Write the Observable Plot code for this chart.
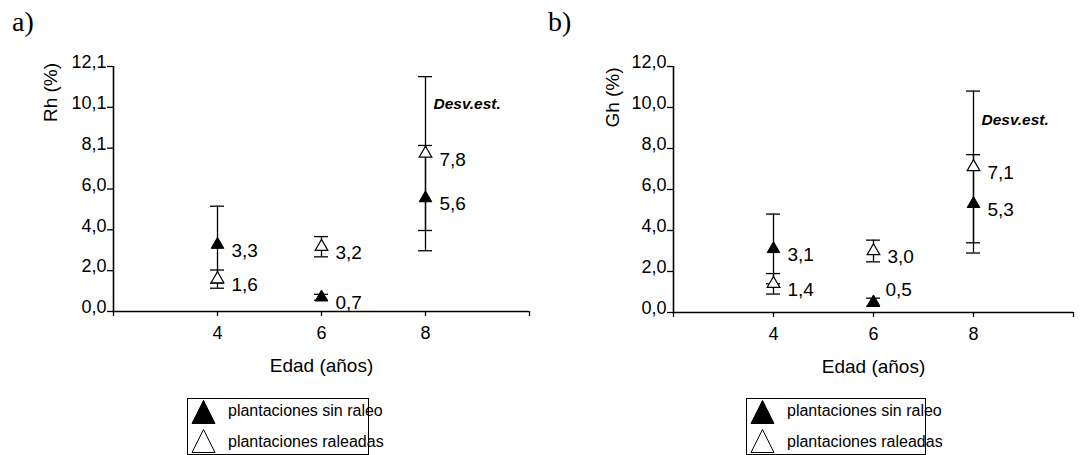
<!DOCTYPE html>
<html><head><meta charset="utf-8">
<script src="https://cdn.jsdelivr.net/npm/d3@7"></script>
<script src="https://cdn.jsdelivr.net/npm/@observablehq/plot@0.6"></script>
<style>
body{margin:0;background:#fff;}
#wrap{position:relative;width:1081px;height:455px;overflow:hidden;font-family:"Liberation Sans",Arial,sans-serif;color:#000;}
.pl{position:absolute;font-family:"Liberation Serif","Times New Roman",serif;font-size:28px;line-height:1;}
.panel{position:absolute;top:0;}
.legend{position:absolute;border:1.5px solid #000;box-sizing:border-box;background:#fff;}
.legend svg{position:absolute;}
.legend span{position:absolute;font-size:16px;line-height:1;white-space:nowrap;transform:translateY(-50%);}
</style></head>
<body><div id="wrap"></div>
<script>
// ---- data ----
const ages = [4, 6, 8];
const rhSinRaleo   = [3.3, 0.7, 5.6];
const rhSinRaleoSd = [1.9, 0.15, 2.6];
const rhRaleadas   = [1.6, 3.2, 7.8];
const rhRaleadasSd = [0.45, 0.5, 3.8];
const ghSinRaleo   = [3.1, 0.5, 5.3];
const ghSinRaleoSd = [1.7, 0.2, 2.4];
const ghRaleadas   = [1.4, 3.0, 7.1];
const ghRaleadasSd = [0.5, 0.53, 3.7];
const xTicks = [2, 4, 6, 8, 10];
const xTickLabels = ["", "4", "6", "8", ""];
const rhTicks = [0, 12.1/6, 2*12.1/6, 3*12.1/6, 4*12.1/6, 5*12.1/6, 12.1];
const rhTickLabels = ["0,0", "2,0", "4,0", "6,0", "8,1", "10,1", "12,1"];
const ghTicks = [0, 2, 4, 6, 8, 10, 12];
const ghTickLabels = ["0,0", "2,0", "4,0", "6,0", "8,0", "10,0", "12,0"];
const seriesNames = ["plantaciones sin raleo", "plantaciones raleadas"];
const panelLetters = ["a)", "b)"];
const xTitle = "Edad (años)";
const sdNote = "Desv.est.";

const fmt = v => d3.format(".1f")(v).replace(".", ",");
const wrap = document.getElementById("wrap");
const FONT = "Liberation Sans, Arial, sans-serif";

function panel(cfg) {
  const rows = [];
  ages.forEach((a, i) => {
    rows.push({x: a, y: cfg.sin[i], sd: cfg.sinSd[i], s: 0});
    rows.push({x: a, y: cfg.ral[i], sd: cfg.ralSd[i], s: 1});
  });
  const lookup = (ticks, labels) => d => labels[ticks.indexOf(d)] ?? "";
  // labels sit right of each marker; a label too close to the x axis goes above it
  const lowLabel = d => d.y < 0.6;
  const chart = Plot.plot({
    width: cfg.width, height: 390,
    marginLeft: cfg.marginLeft, marginRight: cfg.marginRight,
    marginTop: 66, marginBottom: cfg.marginBottom,
    style: {fontFamily: FONT, fontSize: "18px", background: "transparent", overflow: "visible"},
    x: {domain: [2, 10]},
    y: {domain: [0, cfg.yMax]},
    marks: [
      Plot.axisX(xTicks, {tickSize: 5, tickPadding: 10, fontSize: 18, tickFormat: lookup(xTicks, xTickLabels), label: null, stroke: "#000", strokeWidth: 1.3}),
      Plot.axisY(cfg.yTicks, {tickSize: 6, fill: "none", label: null, stroke: "#000", strokeWidth: 1.3, tickFormat: lookup(cfg.yTicks, cfg.yTickLabels)}),
      Plot.axisY(cfg.yTicks, {tickSize: 0, tickPadding: 7, dy: -4, fontSize: 18, label: null, tickFormat: lookup(cfg.yTicks, cfg.yTickLabels)}),
      Plot.ruleX([2], {stroke: "#000", strokeWidth: 1.6}),
      Plot.ruleY([0], {stroke: "#000", strokeWidth: 1.6}),
      Plot.ruleX(rows, {x: "x", y1: d => d.y - d.sd, y2: d => d.y + d.sd, stroke: "#000", strokeWidth: 1.3}),
      Plot.ruleY(rows, {x1: "x", x2: "x", y: d => d.y - d.sd, insetLeft: -7, insetRight: -7, stroke: "#000", strokeWidth: 1.3}),
      Plot.ruleY(rows, {x1: "x", x2: "x", y: d => d.y + d.sd, insetLeft: -7, insetRight: -7, stroke: "#000", strokeWidth: 1.3}),
      Plot.dot(rows.filter(d => d.s === 0), {x: "x", y: "y", symbol: "triangle", r: 4.7, fill: "#000", stroke: "#000", strokeWidth: 1}),
      Plot.dot(rows.filter(d => d.s === 1), {x: "x", y: "y", symbol: "triangle", r: 4.7, fill: "#fff", stroke: "#000", strokeWidth: 1.2}),
      Plot.text(rows.filter(d => !lowLabel(d)), {x: "x", y: "y", text: d => fmt(d.y), dx: 14, dy: 6, textAnchor: "start", fontSize: 19}),
      Plot.text(rows.filter(lowLabel), {x: "x", y: "y", text: d => fmt(d.y), dx: 12, dy: -12, textAnchor: "start", fontSize: 19}),
      Plot.text([sdNote], {x: () => 8, y: () => cfg.desvY, text: d => d, dx: 8, textAnchor: "start", fontWeight: "bold", fontStyle: "italic", fontSize: 15.5}),
      Plot.text([cfg.yTitle], {frameAnchor: "top-left", text: d => d, rotate: -90, textAnchor: "middle", lineAnchor: "middle", dx: cfg.titleDx, dy: cfg.titleDy, fontSize: 19}),
      Plot.text([xTitle], {frameAnchor: "bottom", text: d => d, textAnchor: "middle", lineAnchor: "middle", dy: 54, fontSize: 19})
    ]
  });
  chart.classList.add("panel");
  chart.style.left = cfg.left + "px";
  wrap.appendChild(chart);
}

panel({yTitle: "Rh (%)", yMax: 12.1, yTicks: rhTicks, yTickLabels: rhTickLabels,
  sin: rhSinRaleo, sinSd: rhSinRaleoSd, ral: rhRaleadas, ralSd: rhRaleadasSd,
  left: 0, width: 540, marginLeft: 113, marginRight: 11, marginBottom: 79, desvY: 10.27,
  titleDx: -63, titleDy: 26});
panel({yTitle: "Gh (%)", yMax: 12, yTicks: ghTicks, yTickLabels: ghTickLabels,
  sin: ghSinRaleo, sinSd: ghSinRaleoSd, ral: ghRaleadas, ralSd: ghRaleadasSd,
  left: 540, width: 541, marginLeft: 133, marginRight: 8, marginBottom: 78, desvY: 9.37,
  titleDx: -61, titleDy: 31});

// panel letters
[[12, 8], [548, 8]].forEach(([l, t], i) => {
  const d = document.createElement("div");
  d.className = "pl"; d.style.left = l + "px"; d.style.top = t + "px";
  d.textContent = panelLetters[i];
  wrap.appendChild(d);
});

// legends
function legend(left, width) {
  const box = document.createElement("div");
  box.className = "legend";
  Object.assign(box.style, {left: left + "px", top: "398px", width: width + "px", height: "57px"});
  seriesNames.forEach((name, i) => {
    const svg = d3.create("svg").attr("width", 26).attr("height", 26)
      .style("left", "3px").style("top", (i === 0 ? 0 : 29) + "px");
    svg.append("path").attr("d", "M12.5,1.5 L24,24.5 L1,24.5 Z")
      .attr("fill", i === 0 ? "#000" : "#fff").attr("stroke", "#000").attr("stroke-width", 1);
    box.appendChild(svg.node());
    const sp = document.createElement("span");
    sp.textContent = name;
    sp.style.left = "40px"; sp.style.top = (i === 0 ? 12 : 43) + "px";
    box.appendChild(sp);
  });
  wrap.appendChild(box);
}
legend(187, 182);
legend(746, 180);
</script>
</body></html>
